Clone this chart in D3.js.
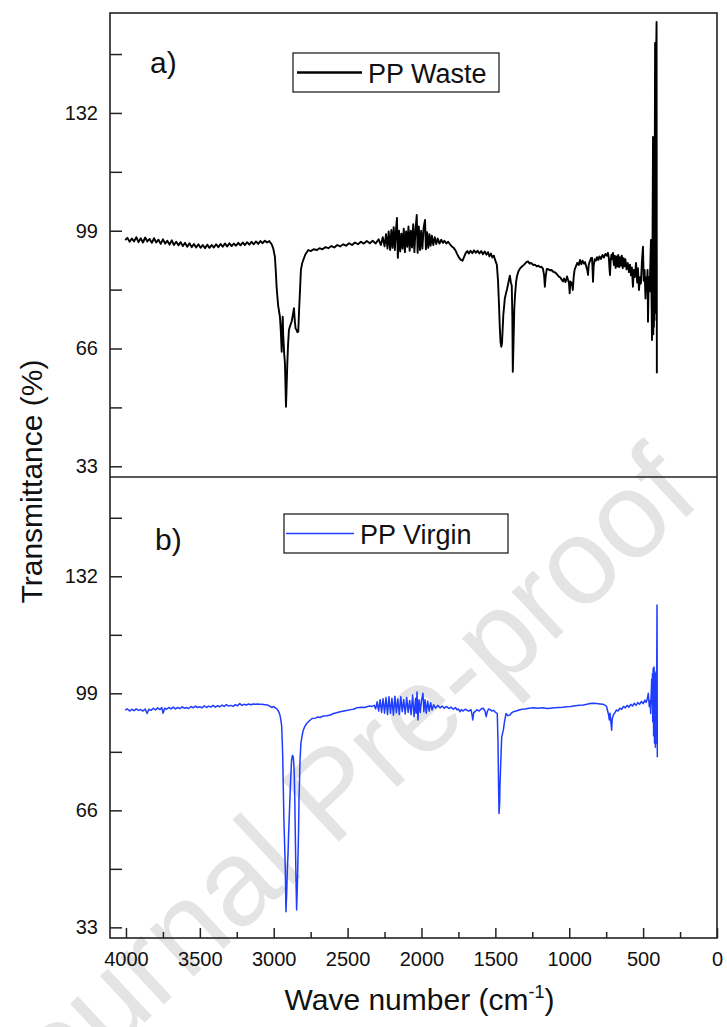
<!DOCTYPE html>
<html>
<head>
<meta charset="utf-8">
<script src="https://cdn.jsdelivr.net/npm/d3@7"></script>
<style>
  body { margin: 0; background: #fff; }
  svg text { font-family: "Liberation Sans", Arial, sans-serif; fill: #111; }
</style>
</head>
<body>
<svg id="chart" width="727" height="1027"></svg>
<script>
// values (wave number cm-1, transmittance %)
const xTicks = [4000, 3500, 3000, 2500, 2000, 1500, 1000, 500, 0];
const xMinor = [3750, 3250, 2750, 2250, 1750, 1250, 750, 250];
const yTicks = [33, 66, 99, 132];
const yMinor = [49.5, 82.5, 115.5, 148.5];
const panelLabels = ["a)", "b)"];
const seriesNames = ["PP Waste", "PP Virgin"];
const seriesColors = ["#000000", "#1f3dff"];

const wasteSpectrum = [
  [4005,96.4],[3990,97.0],[3975,95.9],[3960,96.8],[3945,96.0],[3930,97.2],[3915,95.8],[3900,96.9],[3885,95.7],[3870,97.1],
  [3855,96.0],[3840,96.7],[3825,95.6],[3810,96.9],[3795,95.7],[3780,96.5],[3765,95.3],[3750,96.6],[3735,95.4],[3720,96.2],
  [3705,95.1],[3690,96.3],[3675,95.0],[3660,95.9],[3645,94.9],[3630,95.8],[3615,94.7],[3600,95.6],[3585,94.5],[3570,95.5],
  [3555,94.4],[3540,95.3],[3525,94.3],[3510,95.2],[3495,94.2],[3480,95.0],[3465,94.1],[3450,95.1],[3435,94.2],[3420,95.0],
  [3405,94.3],[3390,95.2],[3375,94.4],[3360,95.3],[3345,94.5],[3330,95.4],[3315,94.6],[3300,95.5],[3285,94.7],[3270,95.4],
  [3255,94.8],[3240,95.6],[3225,94.9],[3210,95.7],[3195,95.0],[3180,95.8],[3165,95.1],[3150,95.9],[3135,95.2],[3120,96.0],
  [3105,95.3],[3090,96.1],[3075,95.5],[3060,96.2],[3045,95.7],[3030,96.1],[3014,95.2],[3003,94.0],[2992,91.7],[2985,87.0],
  [2980,82.9],[2970,78.0],[2958,74.9],[2952,71.0],[2946,65.1],[2942,72.0],[2939,74.9],[2936,70.0],[2934,68.4],[2929,64.5],
  [2924,61.8],[2920,55.0],[2917,49.7],[2913,55.0],[2908,61.8],[2903,67.0],[2897,71.2],[2888,72.5],[2879,73.5],[2870,75.5],
  [2863,77.3],[2858,74.0],[2852,71.6],[2845,71.2],[2840,70.6],[2834,70.7],[2828,77.0],[2822,82.4],[2816,88.0],[2808,89.8],
  [2800,90.8],[2785,92.4],[2766,93.6],[2750,93.3],[2730,93.8],[2707,93.6],[2690,94.1],[2670,93.8],[2650,94.4],[2630,94.1],
  [2610,94.7],[2590,94.3],[2570,95.0],[2550,94.6],[2530,95.2],[2510,94.8],[2490,95.5],[2470,95.0],[2450,95.7],[2430,95.2],
  [2410,95.9],[2390,95.4],[2370,96.1],[2350,95.5],[2330,96.2],[2310,95.4],[2290,96.6],[2275,95.0],[2262,97.2],[2250,94.6],
  [2240,98.0],[2230,94.0],[2222,98.8],[2212,93.6],[2204,99.2],[2196,94.2],[2188,100.0],[2180,93.6],[2172,99.5],[2166,102.6],
  [2160,91.4],[2152,99.0],[2144,93.2],[2136,98.2],[2128,94.0],[2120,99.6],[2112,93.0],[2104,98.8],[2096,94.5],[2088,100.2],
  [2080,93.4],[2072,99.0],[2064,94.3],[2056,100.8],[2048,93.0],[2040,99.5],[2032,103.4],[2026,92.8],[2018,100.2],[2010,93.6],
  [2002,99.0],[1994,94.0],[1985,100.0],[1976,102.0],[1970,93.8],[1962,98.6],[1954,94.2],[1946,98.0],[1938,94.8],[1930,97.6],
  [1920,95.0],[1910,97.2],[1900,95.3],[1890,96.8],[1878,95.4],[1866,96.5],[1855,95.6],[1845,96.2],[1832,95.4],[1820,95.9],
  [1807,95.2],[1795,94.6],[1782,94.2],[1770,93.5],[1760,92.6],[1748,91.6],[1735,90.9],[1722,90.6],[1712,91.6],[1700,92.8],
  [1690,93.3],[1680,92.6],[1668,93.4],[1656,92.7],[1645,93.5],[1632,92.8],[1620,93.4],[1608,92.6],[1596,93.3],[1584,92.4],
  [1572,93.2],[1560,92.3],[1550,93.0],[1540,91.8],[1530,92.6],[1520,91.5],[1510,92.0],[1500,90.6],[1490,89.5],[1482,85.0],
  [1476,79.0],[1470,72.0],[1465,67.8],[1460,66.5],[1455,67.5],[1450,72.0],[1446,75.5],[1442,77.2],[1436,80.0],[1428,81.5],
  [1420,82.8],[1410,84.8],[1402,86.4],[1395,84.5],[1389,83.6],[1385,75.0],[1382,59.5],[1378,66.0],[1372,77.0],[1367,80.8],
  [1360,84.5],[1354,86.2],[1345,87.5],[1335,88.3],[1320,89.0],[1305,89.5],[1290,90.2],[1279,90.4],[1268,89.8],[1258,90.0],
  [1245,89.4],[1232,89.5],[1220,89.0],[1208,89.2],[1198,88.8],[1188,88.9],[1178,88.4],[1170,86.5],[1165,83.3],[1160,86.0],
  [1152,88.3],[1142,88.2],[1130,87.9],[1120,88.0],[1108,87.5],[1095,87.3],[1083,86.8],[1072,86.2],[1060,85.9],[1050,85.2],
  [1042,84.8],[1035,85.6],[1025,84.6],[1015,86.2],[1008,85.2],[1002,84.4],[997,81.5],[992,84.8],[986,83.8],[981,84.4],
  [976,82.4],[970,86.0],[964,88.0],[955,89.0],[945,90.0],[935,89.4],[927,90.8],[918,89.6],[910,90.6],[900,89.8],
  [893,90.2],[885,89.0],[878,88.0],[873,86.6],[868,89.5],[860,90.5],[853,91.3],[846,91.4],[842,88.0],[839,84.7],
  [835,89.0],[828,91.0],[820,90.6],[812,91.6],[803,90.8],[795,91.8],[785,91.1],[775,92.2],[765,91.5],[755,92.5],
  [745,92.0],[738,92.8],[732,91.4],[727,88.0],[724,86.6],[720,90.5],[714,92.3],[708,91.0],[704,92.8],[698,89.4],
  [692,92.0],[686,88.6],[680,91.8],[674,89.0],[668,92.2],[662,88.8],[656,91.6],[650,89.2],[644,92.0],[638,88.5],
  [632,91.3],[626,89.0],[620,91.0],[612,88.2],[604,90.0],[596,87.4],[589,89.5],[582,86.5],[576,88.7],[569,83.3],
  [563,88.0],[556,86.0],[548,90.0],[540,84.5],[535,88.5],[528,82.4],[521,86.0],[515,84.2],[508,90.5],[501,94.5],
  [496,85.0],[490,88.0],[484,80.0],[478,86.0],[474,83.0],[470,88.0],[467,73.5],[462,86.0],[456,82.0],[452,88.5],
  [447,96.4],[443,80.0],[440,68.4],[437,90.0],[433,125.3],[431,70.0],[429,118.0],[427,72.0],[425,122.0],[423,74.0],
  [421,120.0],[419,151.6],[417,76.0],[415,150.0],[413,77.0],[411,151.0],[409,157.5],[407,59.1]
];

const virginSpectrum = [
  [4005,94.3],[3990,94.6],[3975,94.0],[3960,94.5],[3945,94.1],[3930,94.6],[3915,94.2],[3900,94.4],[3885,94.0],[3870,94.6],
  [3857,93.3],[3845,94.5],[3830,94.2],[3815,94.8],[3800,94.3],[3785,94.9],[3770,94.4],[3758,95.0],[3749,93.4],[3738,94.8],
  [3725,94.5],[3710,95.0],[3695,94.6],[3680,95.1],[3665,94.6],[3650,95.0],[3635,94.7],[3620,95.2],[3605,94.8],[3590,95.0],
  [3575,94.7],[3560,95.3],[3545,94.9],[3530,95.4],[3515,95.0],[3500,95.2],[3485,94.9],[3470,95.5],[3455,95.0],[3440,95.4],
  [3425,95.1],[3410,95.6],[3395,95.1],[3380,95.5],[3365,95.2],[3350,95.7],[3335,95.3],[3320,95.8],[3305,95.4],[3290,95.6],
  [3275,95.3],[3260,95.8],[3245,95.5],[3230,96.1],[3215,95.6],[3200,95.9],[3185,95.7],[3170,96.0],[3155,95.8],[3140,96.0],
  [3125,95.9],[3110,96.0],[3095,95.9],[3080,95.9],[3060,95.8],[3040,95.7],[3025,95.3],[3012,95.0],[3000,95.3],[2990,94.9],
  [2978,94.6],[2966,93.8],[2958,92.9],[2950,91.0],[2946,89.6],[2942,85.0],[2939,81.1],[2935,72.0],[2931,63.2],[2926,56.0],
  [2922,50.1],[2917,37.4],[2912,43.0],[2908,49.1],[2903,54.0],[2899,59.5],[2894,65.0],[2890,69.8],[2884,76.0],[2879,80.2],
  [2873,81.5],[2868,81.1],[2864,79.0],[2861,76.4],[2857,68.0],[2854,59.5],[2849,46.0],[2845,37.9],[2840,45.0],[2836,52.0],
  [2832,60.0],[2829,68.9],[2825,75.0],[2822,80.2],[2816,84.9],[2808,87.0],[2800,88.6],[2790,89.6],[2777,90.5],[2760,91.2],
  [2741,91.9],[2720,92.0],[2700,92.3],[2685,92.2],[2665,92.6],[2640,92.7],[2617,92.9],[2595,93.3],[2575,93.5],[2550,93.8],
  [2525,94.0],[2500,94.2],[2480,94.4],[2460,94.5],[2440,94.9],[2420,95.0],[2400,95.1],[2385,95.0],[2370,95.2],[2350,95.4],
  [2335,95.3],[2320,95.6],[2310,94.6],[2300,96.6],[2290,94.0],[2280,97.2],[2270,93.6],[2260,97.5],[2250,93.4],[2240,97.8],
  [2230,93.0],[2220,98.0],[2210,93.3],[2200,97.6],[2190,92.8],[2180,98.2],[2170,93.5],[2160,97.4],[2150,93.0],[2140,98.0],
  [2130,93.8],[2120,97.2],[2110,93.2],[2100,97.8],[2090,93.6],[2080,97.0],[2070,93.0],[2060,98.5],[2050,92.4],[2040,97.6],
  [2036,93.4],[2030,99.4],[2024,91.5],[2016,97.2],[2008,93.6],[2000,97.0],[1990,99.0],[1984,93.8],[1976,97.2],[1968,93.4],
  [1958,96.8],[1948,94.0],[1938,96.4],[1928,94.3],[1918,95.8],[1905,94.8],[1890,95.6],[1875,94.9],[1860,95.4],[1845,94.8],
  [1830,95.3],[1815,94.7],[1800,95.1],[1785,94.5],[1770,95.0],[1760,94.3],[1750,94.6],[1740,93.8],[1730,94.4],[1718,94.0],
  [1705,94.5],[1694,94.3],[1680,94.0],[1665,94.4],[1658,93.0],[1653,91.5],[1646,93.6],[1638,93.8],[1625,94.4],[1610,94.0],
  [1596,94.6],[1582,94.8],[1570,94.0],[1562,92.4],[1555,93.8],[1545,94.6],[1536,94.4],[1525,94.0],[1512,94.2],[1503,93.8],
  [1494,93.5],[1487,93.3],[1482,85.0],[1478,72.0],[1475,65.1],[1471,68.0],[1469,72.6],[1463,80.0],[1457,86.7],[1446,88.6],
  [1438,91.0],[1428,93.3],[1415,92.7],[1401,92.9],[1390,93.5],[1379,93.8],[1360,94.0],[1340,94.3],[1320,94.5],[1300,94.6],
  [1270,94.8],[1241,94.9],[1210,94.8],[1180,94.9],[1150,94.7],[1130,94.8],[1100,94.9],[1070,95.0],[1040,95.1],[1017,95.2],
  [990,95.3],[960,95.5],[930,95.6],[905,95.7],[880,95.9],[860,96.1],[837,96.2],[815,96.1],[792,96.0],[770,95.9],
  [755,95.6],[747,95.2],[740,94.0],[733,92.8],[729,91.5],[724,93.4],[718,90.8],[713,88.6],[709,91.8],[700,93.0],
  [690,93.6],[680,94.3],[670,94.0],[657,94.8],[645,94.5],[632,95.3],[620,94.9],[608,95.6],[596,95.1],[584,95.9],
  [572,95.4],[560,96.2],[548,95.6],[536,96.4],[524,95.9],[512,96.7],[500,96.1],[488,97.1],[480,96.4],[472,97.3],
  [465,99.0],[458,95.2],[452,97.0],[449,93.3],[446,98.0],[442,103.0],[440,96.0],[437,104.5],[435,91.0],[432,106.0],
  [429,87.0],[426,106.4],[423,85.0],[420,105.0],[417,83.8],[414,104.5],[411,85.0],[408,106.0],[406,123.9],[404,81.0]
];

const spectra = [wasteSpectrum, virginSpectrum];

const svg = d3.select("#chart");
const plotLeft = 110, plotRight = 717, plotTop = 13, plotMid = 477, plotBottom = 938;

const x = d3.scaleLinear().domain([4108, 0]).range([plotLeft, plotRight]);
const yScales = [
  d3.scaleLinear().domain([30, 160]).range([plotMid, plotTop]),
  d3.scaleLinear().domain([30, 160]).range([plotBottom, plotMid])
];

// watermark, drawn under everything
svg.append("text")
  .attr("transform", "translate(330,792) rotate(-43)")
  .attr("text-anchor", "middle")
  .attr("dominant-baseline", "central")
  .style("font-size", "122px")
  .style("fill", "#e4e4e4")
  .text("Journal Pre-proof");

// spectra
spectra.forEach((data, i) => {
  const y = yScales[i];
  const line = d3.line().x(d => x(d[0])).y(d => y(d[1]));
  svg.append("path")
    .datum(data)
    .attr("d", line)
    .attr("fill", "none")
    .attr("stroke", seriesColors[i])
    .attr("stroke-width", i == 0 ? 1.9 : 1.5)
    .attr("stroke-linejoin", "round");
});

// y axes (ticks point inward)
yScales.forEach((y, i) => {
  const g = svg.append("g")
    .attr("transform", `translate(${plotLeft},0)`)
    .call(d3.axisLeft(y).tickValues(yTicks.concat(yMinor))
      .tickSize(-12).tickPadding(12)
      .tickFormat(d => yTicks.includes(d) ? d : ""));
  g.select(".domain").remove();
  g.selectAll("line").attr("stroke", "#222").attr("stroke-width", 1.5);
  g.selectAll("text").style("font-size", "20px").attr("fill", "#111");
});

// x axis at the bottom
const gx = svg.append("g")
  .attr("transform", `translate(0,${plotBottom})`)
  .call(d3.axisBottom(x).tickValues(xTicks).tickSize(-10).tickPadding(14)
    .tickFormat(d3.format("d")));
gx.select(".domain").remove();
gx.selectAll("line").attr("stroke", "#222").attr("stroke-width", 1.5);
gx.selectAll("text").style("font-size", "20px").attr("fill", "#111");

const gxm = svg.append("g")
  .attr("transform", `translate(0,${plotBottom})`)
  .call(d3.axisBottom(x).tickValues(xMinor).tickSize(-6).tickFormat(""));
gxm.select(".domain").remove();
gxm.selectAll("line").attr("stroke", "#222").attr("stroke-width", 1.5);

// frame and divider
svg.append("rect")
  .attr("x", plotLeft).attr("y", plotTop)
  .attr("width", plotRight - plotLeft).attr("height", plotBottom - plotTop)
  .attr("fill", "none").attr("stroke", "#222").attr("stroke-width", 1.6);
svg.append("line")
  .attr("x1", plotLeft).attr("x2", plotRight).attr("y1", plotMid).attr("y2", plotMid)
  .attr("stroke", "#222").attr("stroke-width", 1.6);

// panel letters
const panelPos = [[150, 73], [155, 550]];
panelLabels.forEach((t, i) => {
  svg.append("text")
    .attr("x", panelPos[i][0]).attr("y", panelPos[i][1])
    .style("font-size", "30px")
    .text(t);
});

// legends
const legendBox = [[293, 53, 206, 39], [284, 514, 224, 39]];
const legendLine = [[297, 362], [286, 354]];
seriesNames.forEach((name, i) => {
  const b = legendBox[i];
  const g = svg.append("g");
  g.append("rect")
    .attr("x", b[0]).attr("y", b[1]).attr("width", b[2]).attr("height", b[3])
    .attr("fill", "#fff").attr("stroke", "#222").attr("stroke-width", 1.3);
  g.append("line")
    .attr("x1", legendLine[i][0]).attr("x2", legendLine[i][1])
    .attr("y1", b[1] + b[3] / 2).attr("y2", b[1] + b[3] / 2)
    .attr("stroke", seriesColors[i]).attr("stroke-width", i == 0 ? 2.5 : 1.5);
  g.append("text")
    .attr("x", legendLine[i][1] + 6).attr("y", b[1] + b[3] / 2 + 1)
    .attr("dominant-baseline", "central")
    .style("font-size", "27px")
    .text(name);
});

// axis titles
svg.append("text")
  .attr("transform", `translate(31,${(plotTop + plotBottom) / 2 + 6}) rotate(-90)`)
  .attr("text-anchor", "middle")
  .attr("dominant-baseline", "central")
  .style("font-size", "30px")
  .text("Transmittance (%)");

const xt = svg.append("text")
  .attr("x", (plotLeft + plotRight) / 2 + 6).attr("y", 1010)
  .attr("text-anchor", "middle")
  .style("font-size", "30px");
xt.append("tspan").text("Wave number (cm");
xt.append("tspan").attr("dy", -12).style("font-size", "18px").text("-1");
xt.append("tspan").attr("dy", 12).text(")");
</script>
</body>
</html>
